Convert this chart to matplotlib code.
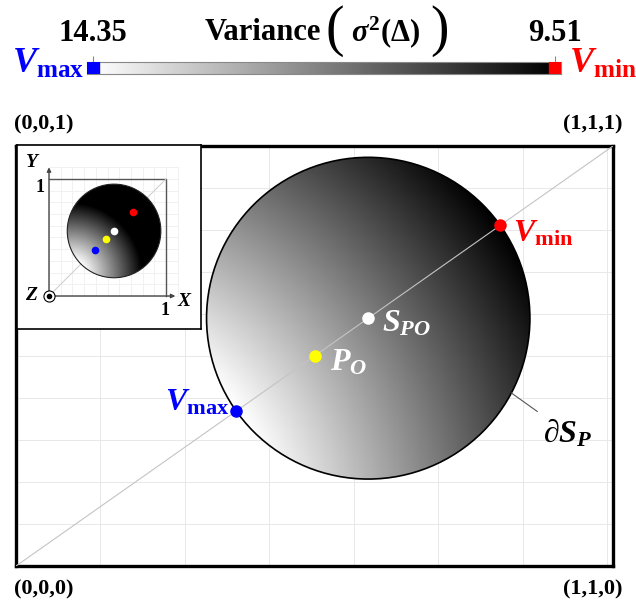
import numpy as np
import matplotlib
matplotlib.use("Agg")
import matplotlib.pyplot as plt
from matplotlib.patches import Circle, Rectangle
from matplotlib.colors import Normalize

plt.rcParams["font.family"] = ["Liberation Serif", "DejaVu Serif"]
plt.rcParams["font.weight"] = "bold"
plt.rcParams["mathtext.fontset"] = "custom"
plt.rcParams["mathtext.rm"] = "Liberation Serif:bold"
plt.rcParams["mathtext.it"] = "Liberation Serif:italic:bold"
plt.rcParams["mathtext.bf"] = "Liberation Serif:bold"
plt.rcParams["mathtext.fallback"] = "stix"

# --- data ---
V_MAX = 14.35
V_MIN = 9.51
point_labels = [r"$V_{\mathrm{max}}$", r"$P_O$", r"$S_{PO}$", r"$V_{\mathrm{min}}$"]
point_t = [0.369, 0.500, 0.590, 0.811]      # points (t, t, t) on the diagonal
inset_t = [0.39, 0.49, 0.556, 0.72]         # same points, XY projection in inset
sphere_t = 0.590
sphere_r = 0.383
inset_center = 0.556
inset_r = 0.40
corner_labels = ["(0,0,1)", "(1,1,1)", "(0,0,0)", "(1,1,0)"]

dot_colors = ["#0000ff", "#ffff00", "white", "#ff0000"]
label_colors = ["#0000ff", "white", "white", "#ff0000"]
label_offsets = [(-7, 8), (15, -7), (14, -6), (13, -8)]
label_ha = ["right", "left", "left", "left"]

W, H = 636, 607
S2 = np.sqrt(2)
norm = Normalize(V_MIN, V_MAX)


def fy(py):
    return 1 - py / H


def shade(cx, cy, r, dirx, diry, k=2.35, n=300):
    # variance over the disk: grows towards a source point beyond the V_max side
    xx, yy = np.meshgrid(np.linspace(cx - r, cx + r, n), np.linspace(cy - r, cy + r, n))
    L = k * r
    fx_, fy_ = cx - L * dirx, cy - L * diry
    dist = np.hypot(xx - fx_, yy - fy_)
    return V_MAX - (dist - (L - r)) / (2 * r) * (V_MAX - V_MIN)


fig = plt.figure(figsize=(W / 100, H / 100), dpi=100)

# --- main diagonal-plane view ---
ax = fig.add_axes([16 / W, fy(566), 597 / W, 420 / H])
cu, cz = sphere_t * S2, sphere_t
field = shade(cu, cz, sphere_r, S2 / np.sqrt(3), 1 / np.sqrt(3))
im = ax.imshow(field, extent=(cu - sphere_r, cu + sphere_r, cz - sphere_r, cz + sphere_r),
               origin="lower", cmap="gray", norm=norm, interpolation="bilinear",
               aspect="auto", zorder=2)
circ = Circle((cu, cz), sphere_r, fc="none", ec="black", lw=1.2, zorder=3)
ax.add_patch(circ)
im.set_clip_path(circ)

ax.plot([0, S2], [0, 1], color="#c4c4c4", lw=0.8, zorder=4)
for t, c, lab, lc, off, ha in zip(point_t, dot_colors, point_labels, label_colors,
                                  label_offsets, label_ha):
    ax.plot(t * S2, t, "o", color=c, ms=9, mec="none", zorder=5)
    ax.annotate(lab, (t * S2, t), xytext=off, textcoords="offset pixels",
                ha=ha, va="center", color=lc, fontsize=23, zorder=6)

a = np.deg2rad(-27.7)
edge = (cu + sphere_r * np.cos(a), cz + sphere_r * np.sin(a))
ax.annotate(r"$\partial S_P$", edge, xytext=(56, -40), textcoords="offset pixels",
            ha="center", va="center", fontsize=23, color="black",
            arrowprops=dict(arrowstyle="-", color="#555555", lw=0.8, shrinkA=3, shrinkB=0))

ax.set_xlim(0, S2)
ax.set_ylim(0, 1)
ax.set_xticks(np.arange(0, 1.5, 0.2))
ax.set_yticks(np.arange(0, 1.01, 0.1))
ax.tick_params(length=0, labelbottom=False, labelleft=False)
ax.grid(color="#e8e8e8", lw=0.7)
ax.set_axisbelow(True)
for s in ax.spines.values():
    s.set_linewidth(2.4)

# --- inset: XY projection ---
iax = fig.add_axes([17 / W, fy(329), 184 / W, 184 / H])
for v in np.arange(0, 1.11, 0.1):
    iax.plot([v, v], [0, 1.1], color="#efefef", lw=0.6, zorder=0)
    iax.plot([0, 1.1], [v, v], color="#efefef", lw=0.6, zorder=0)
ifield = shade(inset_center, inset_center, inset_r, 1 / S2, 1 / S2, k=1.3)
iim = iax.imshow(ifield, extent=(inset_center - inset_r, inset_center + inset_r,
                                 inset_center - inset_r, inset_center + inset_r),
                 origin="lower", cmap="gray", norm=Normalize(11.4, V_MAX),
                 interpolation="bilinear", aspect="auto", zorder=2)
icirc = Circle((inset_center, inset_center), inset_r, fc="none", ec="#222222", lw=0.8, zorder=3)
iax.add_patch(icirc)
iim.set_clip_path(icirc)
iax.plot([0, 1, 1], [1, 1, 0], color="#555555", lw=1, zorder=1)
iax.plot([0, 1], [0, 1], color="#cccccc", lw=0.7, zorder=1)
arrow = dict(arrowstyle="-|>", color="#444444", lw=1, mutation_scale=6, shrinkA=0, shrinkB=0)
iax.annotate("", xy=(1.08, 0), xytext=(0, 0), arrowprops=arrow, zorder=4)
iax.annotate("", xy=(0, 1.1), xytext=(0, 0), arrowprops=arrow, zorder=4)
for t, c in zip(inset_t, dot_colors):
    iax.plot(t, t, "o", color=c, ms=5.5, mec="none", zorder=5)
iax.plot(0, 0, "o", mfc="white", mec="black", mew=0.8, ms=8, zorder=6)
iax.plot(0, 0, "o", color="black", ms=3, zorder=7)
iax.text(-0.137, 1.145, "$Y$", ha="center", va="center", fontsize=14)
iax.text(1.16, -0.05, "$X$", ha="center", va="center", fontsize=14)
iax.text(-0.15, 0.0, "$Z$", ha="center", va="center", fontsize=14)
iax.text(-0.08, 0.93, "1", ha="center", va="center", fontsize=13)
iax.text(0.99, -0.12, "1", ha="center", va="center", fontsize=13)
iax.set_xlim((17 - 49) / 117, (201 - 49) / 117)
iax.set_ylim((296 - 329) / 117, (296 - 145) / 117)
iax.set_xticks([])
iax.set_yticks([])
for s in iax.spines.values():
    s.set_linewidth(1.2)

# --- colour bar (end squares centred on the extreme values) ---
ppu = 462 / (V_MAX - V_MIN)
sq = 12 / ppu
cax = fig.add_axes([87 / W, fy(74), (561 - 87) / W, 12 / H])
grad = np.linspace(V_MAX, V_MIN, 256)[None, :]
cax.imshow(grad, extent=(V_MAX, V_MIN, 0, 1), cmap="gray", norm=norm, aspect="auto")
cax.add_patch(Rectangle((V_MAX - sq / 2, 0), sq, 1, color="#0000ff", zorder=3))
cax.add_patch(Rectangle((V_MIN - sq / 2, 0), sq, 1, color="#ff0000", zorder=3))
cax.set_xlim(V_MAX + 6 / ppu, V_MIN - 6 / ppu)
cax.set_ylim(0, 1)
cax.set_xticks([V_MAX, V_MIN])
cax.set_xticklabels([f"{V_MAX:.2f}", f"{V_MIN:.2f}"])
cax.set_yticks([])
cax.tick_params(axis="x", top=True, labeltop=True, bottom=False, labelbottom=False,
                length=4, width=0.8, color="#888888", pad=6, labelsize=22)
for s in cax.spines.values():
    s.set_color("#888888")
    s.set_linewidth(0.8)

fig.text(84 / W, fy(64), r"$V_{\mathrm{max}}$", color="#0000ff", ha="right", va="center", fontsize=26)
fig.text(569 / W, fy(64), r"$V_{\mathrm{min}}$", color="#ff0000", ha="left", va="center", fontsize=26)

# title with tall parentheses
fig.text(205 / W, fy(32), "Variance", ha="left", va="center", fontsize=22)
fig.text(335 / W, fy(31), "(", ha="center", va="center", fontsize=40, fontweight="normal")
fig.text(386 / W, fy(32), r"$\sigma^2(\Delta)$", ha="center", va="center", fontsize=22)
fig.text(439 / W, fy(31), ")", ha="center", va="center", fontsize=40, fontweight="normal")

# --- corner coordinates ---
fig.text(14 / W, fy(124), corner_labels[0], ha="left", va="center", fontsize=16)
fig.text(622 / W, fy(124), corner_labels[1], ha="right", va="center", fontsize=16)
fig.text(14 / W, fy(589), corner_labels[2], ha="left", va="center", fontsize=16)
fig.text(622 / W, fy(589), corner_labels[3], ha="right", va="center", fontsize=16)

fig.savefig("out.png", dpi=100)
